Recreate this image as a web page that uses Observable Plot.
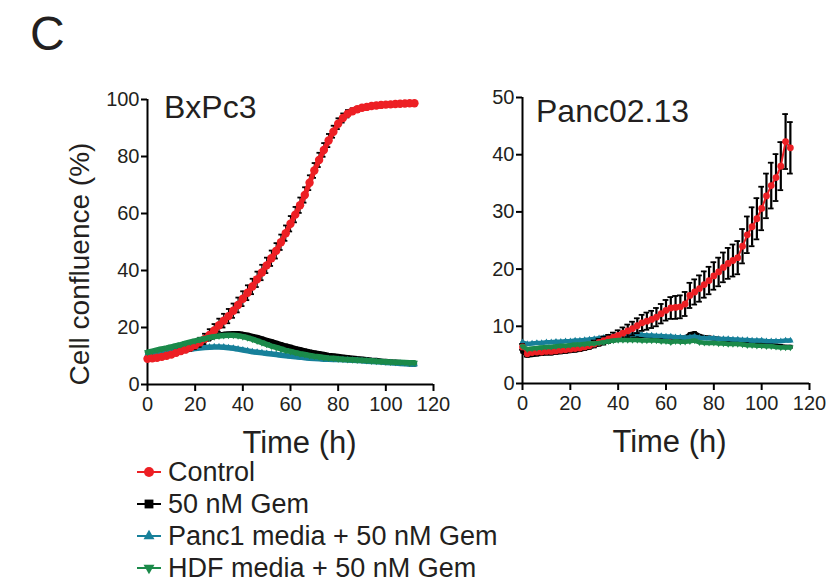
<!DOCTYPE html>
<html><head><meta charset="utf-8">
<script src="https://cdn.jsdelivr.net/npm/d3@7"></script>
<script src="https://cdn.jsdelivr.net/npm/@observablehq/plot@0.6"></script>
<style>
body{margin:0;background:#fff;}
#fig{position:relative;width:826px;height:581px;font-family:"Liberation Sans",Arial,sans-serif;color:#231f20;overflow:hidden;background:#fff;}
#legend{position:absolute;left:137px;top:455.5px;}
#legend .row{display:flex;align-items:center;height:32px;line-height:32px;font-size:27px;white-space:nowrap;}
#legend svg{display:block;margin-right:7px;}
</style></head>
<body><div id="fig"></div>
<script>
// ---- data ----
const times = [0,2,4,6,8,10,12,14,16,18,20,22,24,26,28,30,32,34,36,38,40,42,44,46,48,50,52,54,56,58,60,62,64,66,68,70,72,74,76,78,80,82,84,86,88,90,92,94,96,98,100,102,104,106,108,110,112];
const seriesNames = ["Control","50 nM Gem","Panc1 media + 50 nM Gem","HDF media + 50 nM Gem"];
const seriesColors = ["#ed1f24","#000000","#17809a","#1b8a4a"];
const seriesSymbols = ["circle","square","triangle","triangle"];
const seriesRotate = [0,0,0,180];
const panelTitles = ["BxPc3","Panc02.13"];
const xTicks = [0,20,40,60,80,100,120];
const yTicksBx = [0,20,40,60,80,100];
const yTicksPn = [0,10,20,30,40,50];

const bxControl = [9.0,9.2,9.4,9.7,10.1,10.5,11.1,11.7,12.3,13.0,
 13.8,14.8,16.0,17.4,19.0,20.8,22.4,24.0,25.9,27.9,
 30.1,32.2,34.4,36.9,39.3,41.8,44.3,46.9,49.9,53.1,
 56.4,59.6,62.9,66.5,70.8,75.1,78.8,82.3,85.6,88.7,
 91.5,93.5,95.0,95.9,96.6,97.1,97.4,97.7,97.9,98.1,
 98.2,98.3,98.4,98.5,98.6,98.7,98.7];
const bxControlSD = [0.6,0.6,0.6,0.6,0.7,0.7,0.8,0.9,1.0,1.2,
 1.4,1.6,1.8,2.0,2.2,2.3,2.4,2.5,2.5,2.6,
 2.6,2.6,2.7,2.7,2.7,2.7,2.7,2.7,2.7,2.7,
 2.7,2.7,2.7,2.7,2.6,2.6,2.5,2.4,2.3,2.1,
 1.9,1.6,1.3,1.0,0.8,0.7,0.6,0.5,0.5,0.5,
 0.5,0.5,0.5,0.5,0.5,0.5,0.5];
const bxGem = [9.6,9.9,10.3,10.7,11.1,11.5,12.0,12.5,13.0,13.6,
 14.2,14.9,15.6,16.3,16.9,17.3,17.6,17.7,17.8,17.8,
 17.6,17.3,16.9,16.5,16.0,15.5,15.0,14.5,14.0,13.5,
 13.1,12.6,12.2,11.8,11.4,11.1,10.8,10.5,10.2,10.0,
 9.8,9.6,9.4,9.2,9.0,8.9,8.7,8.5,8.4,8.2,
 8.1,7.9,7.8,7.6,7.5,7.3,7.2];
const bxPanc1 = [10.3,10.5,10.7,10.9,11.1,11.4,11.6,11.9,12.2,12.4,
 12.6,12.8,13.0,13.1,13.2,13.2,13.1,12.9,12.7,12.4,
 12.1,11.8,11.5,11.3,11.1,10.9,10.7,10.5,10.3,10.1,
 9.9,9.7,9.6,9.4,9.2,9.1,9.0,8.9,8.9,8.8,
 8.8,8.7,8.6,8.5,8.4,8.3,8.2,8.1,8.0,7.9,
 7.7,7.6,7.5,7.4,7.3,7.2,7.1];
const bxHDF = [11.3,11.7,12.1,12.5,12.8,13.2,13.6,14.0,14.5,14.9,
 15.3,15.7,16.1,16.5,16.8,17.0,17.2,17.3,17.3,17.1,
 16.8,16.4,15.9,15.3,14.7,14.1,13.5,13.0,12.5,12.0,
 11.6,11.2,10.8,10.5,10.2,9.9,9.7,9.5,9.3,9.2,
 9.0,8.9,8.8,8.7,8.6,8.5,8.4,8.3,8.2,8.1,
 8.0,7.9,7.8,7.8,7.7,7.6,7.6];

const pnControl = [6.4,5.2,5.4,5.5,5.5,5.6,5.6,5.7,5.8,5.9,
 6.0,6.1,6.2,6.4,6.6,6.9,7.2,7.5,7.8,8.1,
 8.4,8.8,9.2,9.6,10.1,10.6,10.9,11.2,11.6,12.2,
 12.8,13.2,13.3,13.4,13.9,15.4,16.0,16.6,17.3,18.0,
 18.8,19.5,20.3,21.0,21.5,22.0,24.0,26.0,27.4,28.8,
 30.6,32.8,34.6,36.0,38.0,42.3,41.2];
const pnControlSD = [0.5,0.5,0.5,0.5,0.5,0.5,0.5,0.5,0.5,0.5,
 0.5,0.5,0.5,0.5,0.5,0.6,0.6,0.7,0.7,0.8,
 0.9,1.0,1.1,1.2,1.3,1.4,1.5,1.5,1.6,1.7,
 1.8,1.9,2.0,2.0,2.1,2.2,2.2,2.3,2.3,2.4,
 2.4,2.5,2.6,2.7,2.8,2.9,3.0,3.2,3.4,3.6,
 3.8,3.9,4.0,4.1,4.2,4.8,4.5];
const pnGem = [5.6,4.9,5.0,5.1,5.2,5.3,5.3,5.4,5.5,5.6,
 5.7,5.8,5.9,6.1,6.3,6.6,6.9,7.2,7.5,7.8,
 8.0,8.1,8.2,8.2,8.3,8.3,8.3,8.2,8.2,8.2,
 8.1,8.1,8.0,8.0,8.0,8.6,8.8,8.3,8.1,8.0,
 7.9,7.8,7.7,7.6,7.5,7.4,7.3,7.2,7.1,7.0,
 6.9,6.8,6.7,6.6,6.5,6.4,6.4];
const pnPanc1 = [7.2,6.9,7.0,7.1,7.1,7.2,7.2,7.3,7.3,7.4,
 7.4,7.5,7.5,7.6,7.7,7.8,7.9,8.0,8.1,8.2,
 8.3,8.4,8.4,8.5,8.7,8.5,8.4,8.4,8.3,8.3,
 8.2,8.2,8.1,8.1,8.0,8.1,8.2,8.0,7.9,7.9,
 7.9,7.8,7.8,7.8,7.7,7.7,7.6,7.6,7.5,7.5,
 7.5,7.4,7.4,7.4,7.4,7.5,7.5];
const pnHDF = [6.5,6.0,6.1,6.2,6.3,6.4,6.4,6.5,6.6,6.6,
 6.7,6.8,6.8,6.9,7.0,7.0,7.1,7.2,7.4,7.5,
 7.6,7.6,7.6,7.6,7.6,7.5,7.5,7.5,7.5,7.4,
 7.4,7.2,7.4,7.3,7.3,7.4,7.5,7.2,7.1,7.1,
 7.1,7.0,7.0,6.9,6.9,6.9,6.8,6.7,6.7,6.6,
 6.6,6.5,6.5,6.4,6.3,6.3,6.3];

// ---- drawing ----
const FONT = '"Liberation Sans", Arial, Helvetica, sans-serif';
const INK = "#231f20";
const drawOrder = [1, 2, 0, 3];

function rowsOf(values, sd) {
  return values.map((v, i) => ({t: times[i], v, sd: sd ? sd[i] : 0}));
}

function panel(cfg) {
  const marks = [
    Plot.ruleY([0], {x1: 0, x2: 120, stroke: "#000", strokeWidth: 2}),
    Plot.ruleX([0], {y1: 0, y2: cfg.yMax, stroke: "#000", strokeWidth: 2}),
    Plot.axisX({ticks: xTicks, tickSize: 7, tickPadding: 5, fontSize: 20, label: null, strokeWidth: 2, stroke: "#000"}),
    Plot.axisY({ticks: cfg.yTicks, tickSize: 6, tickPadding: 2, fontSize: 20, label: null, strokeWidth: 2, stroke: "#000"})
  ];
  for (const k of drawOrder) {
    const d = rowsOf(cfg.series[k], k === 0 ? cfg.sd : null);
    const color = seriesColors[k];
    if (k === 0) {
      marks.push(
        Plot.ruleX(d, {x: "t", y1: r => r.v - r.sd, y2: r => r.v + r.sd, stroke: "#000", strokeWidth: cfg.barW}),
        Plot.ruleY(d, {y: r => r.v + r.sd, x1: r => r.t - cfg.capHalf, x2: r => r.t + cfg.capHalf, stroke: "#000", strokeWidth: 1.8}),
        Plot.ruleY(d, {y: r => r.v - r.sd, x1: r => r.t - cfg.capHalf, x2: r => r.t + cfg.capHalf, stroke: "#000", strokeWidth: 1.8})
      );
    }
    marks.push(
      Plot.line(d, {x: "t", y: "v", stroke: color, strokeWidth: k === 0 ? cfg.wCtrl : cfg.wOther}),
      Plot.dot(d, {x: "t", y: "v", r: k === 0 ? cfg.rCtrl : cfg.rOther, symbol: seriesSymbols[k], rotate: seriesRotate[k], fill: color, stroke: "none"})
    );
  }
  marks.push(
    Plot.text([cfg.title], {text: d => d, frameAnchor: "top-left", dx: cfg.titleDx, dy: cfg.titleDy, fontSize: 32, textAnchor: "start", lineAnchor: "bottom", fill: INK}),
    Plot.text(["Time (h)"], {text: d => d, frameAnchor: "bottom", dx: cfg.xLabelDx, dy: 68, fontSize: 31, lineAnchor: "bottom", fill: INK})
  );
  if (cfg.extra) marks.push(...cfg.extra);
  const svg = Plot.plot({
    width: cfg.width, height: cfg.height,
    marginLeft: cfg.ml, marginRight: cfg.mr, marginTop: cfg.mt, marginBottom: cfg.mb,
    x: {domain: [0, 120]},
    y: {domain: [0, cfg.yMax]},
    style: {fontFamily: FONT, color: INK, background: "transparent", overflow: "visible"},
    marks
  });
  svg.style.position = "absolute";
  svg.style.left = cfg.left + "px";
  svg.style.top = "0px";
  return svg;
}

const fig = document.getElementById("fig");

fig.appendChild(panel({
  left: 0, width: 450, height: 470, ml: 147, mr: 17, mt: 99, mb: 86,
  yMax: 100, yTicks: yTicksBx,
  series: [bxControl, bxGem, bxPanc1, bxHDF], sd: bxControlSD,
  rCtrl: 4.2, rOther: 2.6, wCtrl: 5, wOther: 5.5, barW: 1.2, capHalf: 0.9,
  title: panelTitles[0], titleDx: 16.5, titleDy: 18, xLabelDx: 9,
  extra: [
    Plot.text(["Cell confluence (%)"], {text: d => d, frameAnchor: "left", rotate: -90, dx: -59, dy: 22, fontSize: 28, textAnchor: "middle", lineAnchor: "bottom", fill: INK}),
    Plot.text(["C"], {text: d => d, frameAnchor: "top-left", dx: -117.5, dy: -49.5, fontSize: 48, textAnchor: "start", lineAnchor: "bottom", fill: INK})
  ]
}));

fig.appendChild(panel({
  left: 450, width: 376, height: 470, ml: 72, mr: 17, mt: 97, mb: 87,
  yMax: 50, yTicks: yTicksPn,
  series: [pnControl, pnGem, pnPanc1, pnHDF], sd: pnControlSD,
  rCtrl: 3.4, rOther: 2.4, wCtrl: 2, wOther: 4.5, barW: 2.2, capHalf: 1.2,
  title: panelTitles[1], titleDx: 13.5, titleDy: 24.5, xLabelDx: 3.5
}));

// legend
const legend = document.createElement("div");
legend.id = "legend";
const symbolTypes = {circle: d3.symbolCircle, square: d3.symbolSquare, triangle: d3.symbolTriangle};
const symbolSizes = [78, 78, 52, 52];
seriesNames.forEach((name, k) => {
  const row = document.createElement("div");
  row.className = "row";
  const path = d3.symbol(symbolTypes[seriesSymbols[k]], symbolSizes[k])();
  row.innerHTML = `<svg width="24" height="16" viewBox="0 0 24 16">
    <line x1="0" x2="24" y1="8" y2="8" stroke="${seriesColors[k]}" stroke-width="2"/>
    <path d="${path}" transform="translate(12,8) rotate(${seriesRotate[k]})" fill="${seriesColors[k]}"/>
  </svg><span>${name}</span>`;
  legend.appendChild(row);
});
fig.appendChild(legend);
</script>
</body></html>
